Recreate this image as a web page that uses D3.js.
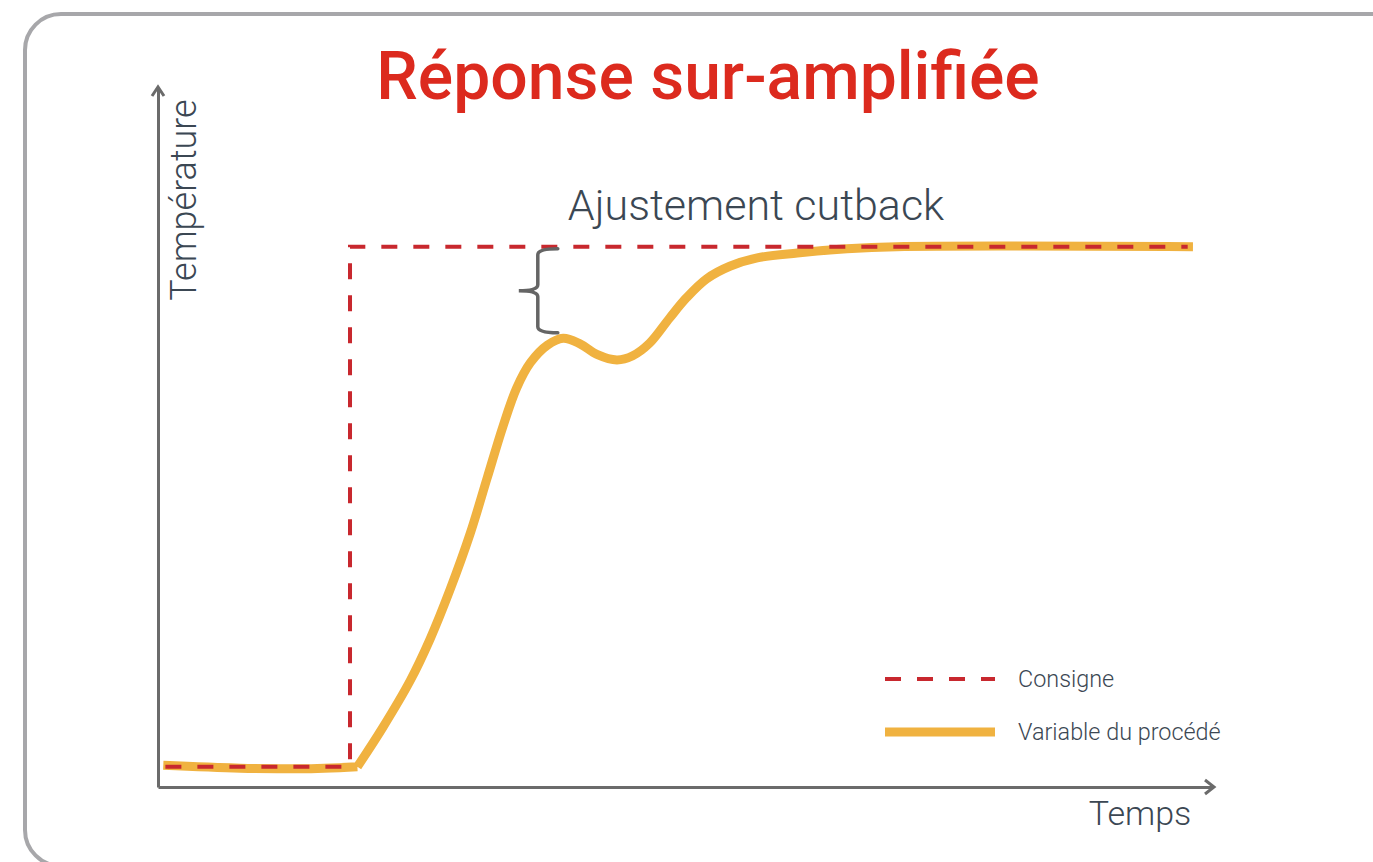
<!DOCTYPE html>
<html>
<head>
<meta charset="utf-8">
<script src="https://cdn.jsdelivr.net/npm/d3@7"></script>
<style>
  html, body { margin: 0; padding: 0; background: #fff; }
  svg { display: block; }
  text { font-family: Roboto, "Liberation Sans", sans-serif; }
</style>
</head>
<body>
<svg width="1373" height="862"></svg>
<script>
// --- data (time / temperature in arbitrary units, 0..100) ---
var setpointTime  = [0.7, 18.2, 18.2, 97.6];
var setpointValue = [2.9, 2.9, 77.3, 77.3];

var processTime  = [0.5, 7.8, 13.5, 18.9, 21.3, 23.9, 25.8, 27.7, 29.6, 31.2, 32.7, 34.0, 35.3, 36.9,
                    38.4, 40.0, 41.6, 43.5, 45.0, 46.6, 48.5, 50.1, 52.0, 54.2, 56.8, 60.6, 65.3, 70.0, 98.1];
var processValue = [3.1, 2.7, 2.6, 2.9, 8.5, 15.2, 21.2, 28.3, 36.3, 44.2, 51.6, 57.1, 60.7, 63.2,
                    64.2, 63.4, 61.9, 61.1, 61.7, 63.5, 67.1, 70.0, 72.7, 74.5, 75.7, 76.4, 77.0, 77.3, 77.3];
// index where the heating starts (corner of the process curve)
var heatStart = 3;

var legendLabels = ["Consigne", "Variable du procédé"];
var titleText = "Réponse sur-amplifiée";
var xLabel = "Temps";
var yLabel = "Température";
var annotationText = "Ajustement cutback";
// brace spans from the setpoint down to the first overshoot peak
var braceTime = 36.0;
var braceTop = 77.0;
var braceBottom = 65.0;

var svg = d3.select("svg");

var margin = {top: 88, right: 160, bottom: 75, left: 158};
var width = +svg.attr("width") - margin.left - margin.right;
var height = +svg.attr("height") - margin.top - margin.bottom;

var red = "#c8282e";
var orange = "#f0b240";
var axisGrey = "#6b6b6b";
var textGrey = "#3b4753";

// outer rounded frame
svg.append("rect")
  .attr("x", 25).attr("y", 14)
  .attr("width", 1420).attr("height", 852)
  .attr("rx", 36).attr("ry", 36)
  .attr("fill", "none")
  .attr("stroke", "#a7a7aa")
  .attr("stroke-width", 4);

var g = svg.append("g")
  .attr("transform", "translate(" + margin.left + "," + margin.top + ")");

var x = d3.scaleLinear().domain([0, 100]).range([0, width]);
var y = d3.scaleLinear().domain([0, 100]).range([height, 0]);

// axes: lines only, no ticks
var xAxis = d3.axisBottom(x).tickValues([]).tickSizeOuter(0);
var yAxis = d3.axisLeft(y).tickValues([]).tickSizeOuter(0);

var axisXG = g.append("g")
  .attr("transform", "translate(0," + height + ")")
  .call(xAxis);
var axisYG = g.append("g").call(yAxis);

[axisXG, axisYG].forEach(function(a) {
  a.select(".domain")
    .attr("stroke", axisGrey)
    .attr("stroke-width", 3);
});

// arrow heads
g.append("path")
  .attr("d", "M" + (x(100) - 8) + "," + (height - 7) + "L" + (x(100) + 1) + "," + height + "L" + (x(100) - 8) + "," + (height + 7))
  .attr("fill", "none").attr("stroke", axisGrey).attr("stroke-width", 3)
  .attr("stroke-linejoin", "miter");
g.append("path")
  .attr("d", "M-6," + (y(100) + 8) + "L0," + (y(100) - 1) + "L6," + (y(100) + 8))
  .attr("fill", "none").attr("stroke", axisGrey).attr("stroke-width", 3);

// process variable
var pvData = processTime.map(function(t, i) { return {t: t, v: processValue[i]}; });
var spData = setpointTime.map(function(t, i) { return {t: t, v: setpointValue[i]}; });

var flatLine = d3.line()
  .x(function(d) { return x(d.t); })
  .y(function(d) { return y(d.v); })
  .curve(d3.curveMonotoneX);

var riseLine = d3.line()
  .x(function(d) { return x(d.t); })
  .y(function(d) { return y(d.v); })
  .curve(d3.curveCatmullRom.alpha(0.5));

var spLine = d3.line()
  .x(function(d) { return x(d.t); })
  .y(function(d) { return y(d.v); });

g.append("path")
  .attr("d", flatLine(pvData.slice(0, heatStart + 1)) + riseLine(pvData.slice(heatStart)))
  .attr("fill", "none")
  .attr("stroke", orange)
  .attr("stroke-width", 9)
  .attr("stroke-linecap", "butt");

g.append("path")
  .datum(spData)
  .attr("d", spLine)
  .attr("fill", "none")
  .attr("stroke", red)
  .attr("stroke-width", 4)
  .attr("stroke-dasharray", "16,16");

// brace annotation
var bx = x(braceTime), by0 = y(braceTop), by1 = y(braceBottom);
var bm = (by0 + by1) / 2;
g.append("path")
  .attr("d",
    "M" + (bx + 20) + "," + by0 +
    "Q" + bx + "," + by0 + " " + bx + "," + (by0 + 6) +
    "L" + bx + "," + (bm - 6) +
    "Q" + bx + "," + bm + " " + (bx - 19) + "," + bm +
    "Q" + bx + "," + bm + " " + bx + "," + (bm + 6) +
    "L" + bx + "," + (by1 - 6) +
    "Q" + bx + "," + by1 + " " + (bx + 20) + "," + by1)
  .attr("fill", "none")
  .attr("stroke", "#656565")
  .attr("stroke-width", 3.5)
  .attr("stroke-linecap", "round");

// texts
svg.append("text")
  .attr("x", 708).attr("y", 99)
  .attr("text-anchor", "middle")
  .attr("fill", "#dc2a1e")
  .attr("font-size", 66)
  .attr("font-weight", 500)
  .text(titleText);

svg.append("text")
  .attr("x", 756).attr("y", 220)
  .attr("text-anchor", "middle")
  .attr("fill", textGrey)
  .attr("font-size", 43)
  .attr("font-weight", 300)
  .text(annotationText);

svg.append("text")
  .attr("transform", "translate(196,200) rotate(-90)")
  .attr("text-anchor", "middle")
  .attr("fill", textGrey)
  .attr("font-size", 36)
  .attr("font-weight", 300)
  .text(yLabel);

svg.append("text")
  .attr("x", 1140).attr("y", 825)
  .attr("text-anchor", "middle")
  .attr("fill", textGrey)
  .attr("font-size", 34)
  .attr("font-weight", 300)
  .text(xLabel);

// legend
var legend = svg.append("g").attr("transform", "translate(885,679)");
var items = legend.selectAll("g")
  .data(legendLabels)
  .enter().append("g")
  .attr("transform", function(d, i) { return "translate(0," + (i * 53) + ")"; });

items.append("line")
  .attr("x1", 0).attr("x2", 110)
  .attr("stroke", function(d, i) { return i === 0 ? red : orange; })
  .attr("stroke-width", function(d, i) { return i === 0 ? 4 : 9; })
  .attr("stroke-dasharray", function(d, i) { return i === 0 ? "16,16" : null; });

items.append("text")
  .attr("x", 133).attr("dy", "0.35em")
  .attr("fill", textGrey)
  .attr("font-size", 23.4)
  .attr("font-weight", 300)
  .text(function(d) { return d; });
</script>
</body>
</html>
